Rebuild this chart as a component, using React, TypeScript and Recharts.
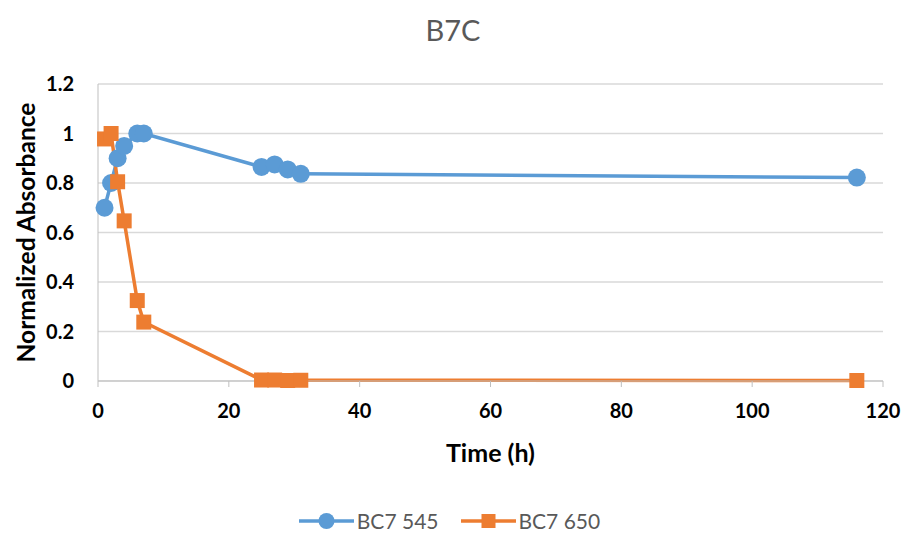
import React from "react";
import { LineChart, Line, XAxis, YAxis, CartesianGrid, Legend, Customized } from "recharts";

// sampling times (h) and normalized absorbance at 545 nm / 650 nm
const hours = [1, 2, 3, 4, 6, 7, 25, 27, 29, 31, 116];
const abs545 = [0.70, 0.80, 0.90, 0.95, 1.0, 1.0, 0.865, 0.875, 0.855, 0.837, 0.822];
const abs650 = [0.978, 1.0, 0.805, 0.647, 0.325, 0.238, 0.004, 0.004, 0.002, 0.003, 0.002];

const xTicks = [0, 20, 40, 60, 80, 100, 120];
const yTicks = [0, 0.2, 0.4, 0.6, 0.8, 1, 1.2];

const data = hours.map((h, i) => ({ t: h, s545: abs545[i], s650: abs650[i] }));

const BLUE = "#5B9BD5";
const ORANGE = "#ED7D31";
const FONT = "Lato, 'Open Sans', sans-serif";

const SquareDot = (props: any) => {
  const { cx, cy } = props;
  if (cx == null || cy == null) return null;
  return <rect x={cx - 7.5} y={cy - 7.5} width={15} height={15} fill={ORANGE} />;
};

const Title = () => (
  <text x={453} y={41} textAnchor="middle" fontSize={29} fill="#595959" fontFamily={FONT}>
    B7C
  </text>
);

// rotated y-axis title, centred on the plot height
const YTitle = (props: any) => {
  const { viewBox } = props;
  const cx = 25;
  const cy = viewBox.y + viewBox.height / 2;
  return (
    <text
      x={cx}
      y={cy}
      transform={`rotate(-90 ${cx} ${cy})`}
      textAnchor="middle"
      dominantBaseline="central"
      fontSize={24.5}
      fontWeight={700}
      fontFamily={FONT}
      fill="#000"
    >
      Normalized Absorbance
    </text>
  );
};

const legendItems = [
  { label: "BC7 545", color: BLUE, shape: "circle" },
  { label: "BC7 650", color: ORANGE, shape: "square" },
];

const LegendContent = () => (
  <div style={{ display: "flex", justifyContent: "center", gap: 22, fontFamily: FONT, fontSize: 21, color: "#595959", marginLeft: 16, marginTop: 4 }}>
    {legendItems.map((it) => (
      <div key={it.label} style={{ display: "flex", alignItems: "center" }}>
        <svg width={55} height={22}>
          <line x1={0} y1={11} x2={55} y2={11} stroke={it.color} strokeWidth={3.5} />
          {it.shape === "circle" ? (
            <circle cx={27.5} cy={11} r={8} fill={it.color} />
          ) : (
            <rect x={20.5} y={4} width={14} height={14} fill={it.color} />
          )}
        </svg>
        <span style={{ marginLeft: 3 }}>{it.label}</span>
      </div>
    ))}
  </div>
);

export default function App() {
  return (
    <div style={{ position: "absolute", left: 0, top: 0, background: "#fff" }}>
      <LineChart
        width={905}
        height={534}
        data={data}
        margin={{ top: 84, right: 22, bottom: 0, left: 0 }}
      >
        <CartesianGrid horizontal vertical={false} stroke="#d9d9d9" strokeWidth={1.3} />
        <XAxis
          dataKey="t"
          type="number"
          domain={[0, 120]}
          ticks={xTicks}
          height={123}
          stroke="#bfbfbf"
          tickSize={6}
          tick={{ fill: "#000", fontSize: 20, fontWeight: 700, fontFamily: FONT }}
          tickMargin={17}
          label={{ value: "Time (h)", position: "insideTop", offset: 63, fill: "#000", fontSize: 25, fontWeight: 700, fontFamily: FONT }}
        />
        <YAxis
          type="number"
          domain={[0, 1.2]}
          ticks={yTicks}
          width={98}
          stroke="#bfbfbf"
          tickLine={false}
          tickMargin={18}
          tick={{ fill: "#000", fontSize: 20, fontWeight: 700, fontFamily: FONT }}
          label={<YTitle />}
        />
        <Legend verticalAlign="bottom" height={30} content={<LegendContent />} />
        <Line
          dataKey="s545"
          stroke={BLUE}
          strokeWidth={3.5}
          dot={{ r: 9, fill: BLUE, stroke: BLUE, strokeWidth: 0 }}
          isAnimationActive={false}
        />
        <Line
          dataKey="s650"
          stroke={ORANGE}
          strokeWidth={3.5}
          dot={<SquareDot />}
          isAnimationActive={false}
        />
        <Customized component={Title} />
      </LineChart>
    </div>
  );
}
